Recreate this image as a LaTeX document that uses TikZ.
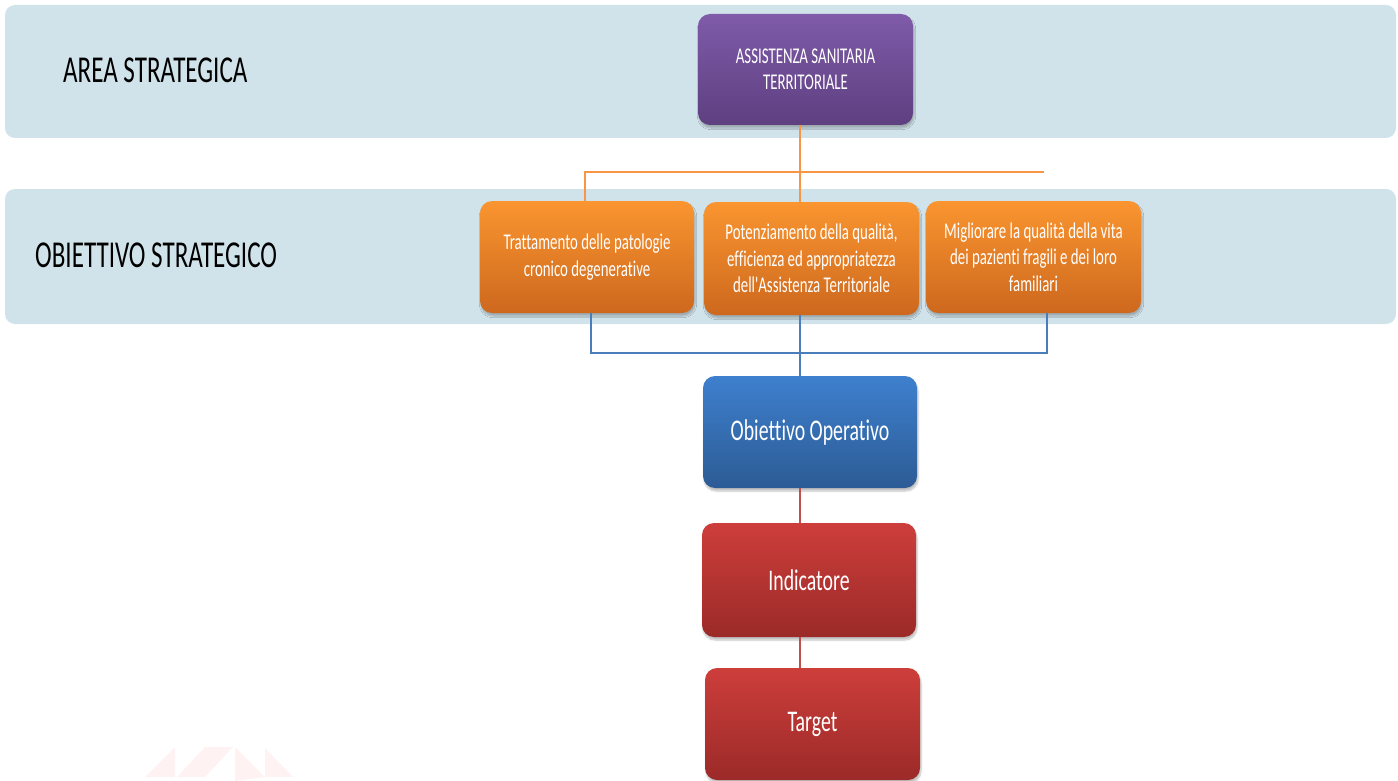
\documentclass[tikz,border=0pt]{standalone}
\usepackage{fontspec}
\newfontfamily\cf[FakeStretch=0.66,Ligatures=NoCommon]{Carlito}
\usetikzlibrary{shadows.blur}
\definecolor{bandc}{HTML}{D1E3EA}
\definecolor{purT}{HTML}{7F5BA9}
\definecolor{purB}{HTML}{5E3F80}
\definecolor{orT}{HTML}{FA9530}
\definecolor{orB}{HTML}{CD681E}
\definecolor{blT}{HTML}{3E80CE}
\definecolor{blB}{HTML}{2C5B95}
\definecolor{rdT}{HTML}{CD3E3B}
\definecolor{rdB}{HTML}{9B2A28}
\definecolor{oline}{HTML}{F79646}
\definecolor{bline}{HTML}{4A7EBB}
\definecolor{rline}{HTML}{C0504D}
\definecolor{wm}{HTML}{FEF2F3}
\tikzset{
  band/.style={fill=bandc, rounded corners=10pt, inner sep=0pt},
  bandlabel/.style={anchor=base west, inner sep=0pt, font=\cf\fontsize{38pt}{44pt}\selectfont, text=black},
  boxbase/.style={rounded corners=12pt, inner sep=0pt, text=white, align=center,
    blur shadow={shadow xshift=1pt, shadow yshift=-3pt, shadow opacity=25, shadow blur steps=6}},
  smalltext/.style={font=\cf\fontsize{22.5pt}{26.5pt}\selectfont},
  bigtext/.style={font=\cf\fontsize{30pt}{34pt}\selectfont},
  purplebox/.style={boxbase, smalltext, top color=purT, bottom color=purB},
  orangebox/.style={boxbase, smalltext, top color=orT, bottom color=orB},
  bluebox/.style={boxbase, bigtext, top color=blT, bottom color=blB},
  redbox/.style={boxbase, bigtext, top color=rdT, bottom color=rdB},
  oconn/.style={draw=oline, line width=2.4pt},
  bconn/.style={draw=bline, line width=2.6pt},
  rconn/.style={draw=rline, line width=1.6pt},
}
\begin{document}
\begin{tikzpicture}[x=1pt,y=-1pt]
\useasboundingbox (0,0) rectangle (1398,781);
% watermark
\fill[wm] (145,777) -- (175,747) -- (175,777) -- cycle;
\fill[wm] (177,777) -- (205,747) -- (233,747) -- (205,777) -- cycle;
\fill[wm] (235,747) -- (265,777) -- (235,781) -- cycle;
\fill[wm] (265,748) -- (293,777) -- (265,777) -- cycle;
% bands
\node[band, minimum width=1391pt, minimum height=133pt] (band1) at (700.5,71.5) {};
\node[band, minimum width=1391pt, minimum height=135pt] (band2) at (700.5,256.5) {};
\node[bandlabel] (lab1) at (63,83) {AREA STRATEGICA};
\node[bandlabel] (lab2) at (35,267) {OBIETTIVO STRATEGICO};
% coordinates for connectors
\coordinate (oc) at (800,172);
\coordinate (ol) at (585,172);
\coordinate (oend) at (1044,172);
\coordinate (bl) at (591,353);
\coordinate (bm) at (800,353);
\coordinate (br) at (1047,353);
% boxes
\node[purplebox, minimum width=215pt, minimum height=111pt] (asst) at (805.5,69.5) {ASSISTENZA SANITARIA\\TERRITORIALE};
\node[orangebox, minimum width=214pt, minimum height=112pt] (ob1) at (587,257) {Trattamento delle patologie\\cronico degenerative};
\node[orangebox, minimum width=215pt, minimum height=113pt] (ob2) at (811.5,258.5) {Potenziamento della qualità,\\efficienza ed appropriatezza\\dell'Assistenza Territoriale};
\node[orangebox, minimum width=215pt, minimum height=112pt] (ob3) at (1033.5,257) {Migliorare la qualità della vita\\dei pazienti fragili e dei loro\\familiari};
\node[bluebox, minimum width=214pt, minimum height=112pt] (op) at (810,432) {Obiettivo Operativo};
\node[redbox, minimum width=214pt, minimum height=114pt] (ind) at (809,580) {Indicatore};
\node[redbox, minimum width=215pt, minimum height=112pt] (tgt) at (812.5,724) {Target};
% connectors
\draw[oconn] (asst.south -| oc) -- (ob2.north -| oc);
\draw[oconn] (ob1.north -| ol) -- (ol) -- (oend);
\draw[bconn] (ob1.south -| bl) -- (bl) -- (br) -- (ob3.south -| br);
\draw[bconn] (ob2.south -| bm) -- (op.north -| bm);
\draw[rconn] (op.south -| bm) -- (ind.north -| bm);
\draw[rconn] (ind.south -| bm) -- (tgt.north -| bm);
\end{tikzpicture}
\end{document}
